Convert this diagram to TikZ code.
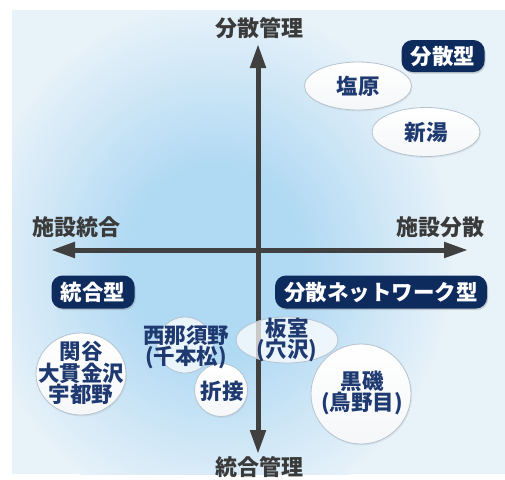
\documentclass[tikz,border=0pt]{standalone}
\usepackage{fontspec}
\newfontfamily\jp{Noto Sans CJK JP}
\usetikzlibrary{arrows.meta,shapes.geometric,shadows}
\definecolor{labelgray}{HTML}{3A3A3A}
\definecolor{navytext}{HTML}{1E3A70}
\definecolor{navybox}{HTML}{0E2B5E}
\definecolor{panelblue}{HTML}{E8F2F9}
\definecolor{coreblue}{HTML}{B0D9F3}
\definecolor{ellborder}{HTML}{B6C2CF}
\definecolor{axisgray}{HTML}{404040}
\pgfdeclareradialshading{bgglow}{\pgfpoint{0bp}{0bp}}{color(0bp)=(coreblue); color(9bp)=(coreblue); color(25bp)=(panelblue); color(50bp)=(panelblue)}
\tikzset{
  axislabel/.style={font=\jp\bfseries\fontsize{22}{22}\selectfont, text=labelgray, inner sep=0pt},
  typebox/.style={rounded corners=11pt, fill=navybox, text=white, font=\jp\bfseries\fontsize{21.5}{22}\selectfont, inner sep=0pt,
     drop shadow={opacity=0.35, shadow xshift=1pt, shadow yshift=-1.5pt}},
  site/.style={ellipse, draw=ellborder, line width=0.8pt, top color=white, bottom color=white!86!ellborder, inner sep=0pt,
     drop shadow={opacity=0.12, shadow xshift=1pt, shadow yshift=-1.5pt}},
  sitesoft/.style={ellipse, draw=ellborder, line width=0.8pt, fill=white, fill opacity=0.72, inner sep=0pt},
  sitetext/.style={font=\jp\bfseries\fontsize{21.5}{21.5}\selectfont, text=navytext, align=center, inner sep=0pt},
  axis/.style={line width=5pt, draw=axisgray, {Triangle[length=24pt,width=15pt]}-{Triangle[length=24pt,width=15pt]}}
}
\begin{document}
\begin{tikzpicture}[x=1pt,y=-1pt]
\useasboundingbox (0,0) rectangle (505,479);
% background panel
\fill[panelblue] (12,10) rectangle (505,474);
\begin{scope}
  \clip (12,10) rectangle (505,474);
  \shade[shading=bgglow] (215,260) ellipse (240pt and 260pt);
\end{scope}
% axes
\coordinate (top) at (258,44);
\coordinate (bottom) at (258,454);
\coordinate (left) at (51,250);
\coordinate (right) at (468,250);
\draw[axis] (bottom) -- (top);
\draw[axis] (left) -- (right);
% axis labels
\node[axislabel] (ltop) at (259,28) {分散管理};
\node[axislabel] (lbottom) at (259,467) {統合管理};
\node[axislabel] (lleft) at (76,227) {施設統合};
\node[axislabel] (lright) at (440,227) {施設分散};
% type boxes
\node[typebox, minimum width=83pt, minimum height=32pt] (bunsan) at (443,56) {分散型};
\node[typebox, minimum width=83pt, minimum height=33pt] (tougou) at (93,292) {統合型};
\node[typebox, minimum width=212pt, minimum height=33pt] (network) at (381,292) {分散ネットワーク型};
% sites
\node[site, minimum width=107pt, minimum height=48pt] (shiobara) at (358,86) {};
\node[sitetext] at (shiobara) {塩原};
\node[site, minimum width=108pt, minimum height=49pt] (arayu) at (426,132) {};
\node[sitetext] at (arayu) {新湯};
\node[site, minimum width=90pt, minimum height=82pt] (sekiya) at (81,374) {};
\node[sitetext] at (81,373) {関谷\\大貫金沢\\宇都野};
\node[sitesoft, minimum width=56pt, minimum height=56pt] (nishic) at (185,345) {};
\node[site, minimum width=53pt, minimum height=53pt] (oritsugi) at (221,390) {};
\node[sitetext] at (222,391) {折接};
\node[sitetext] (nishi) at (186,347) {西那須野\\(千本松)};
\node[sitesoft, minimum width=102pt, minimum height=46pt] (itamuro) at (287,340) {};
\node[sitetext] at (287,340) {板室\\(穴沢)};
\node[site, minimum width=100pt, minimum height=100pt] (kuroiso) at (361,394) {};
\node[sitetext] at (362,393) {黒磯\\(鳥野目)};
\end{tikzpicture}
\end{document}
